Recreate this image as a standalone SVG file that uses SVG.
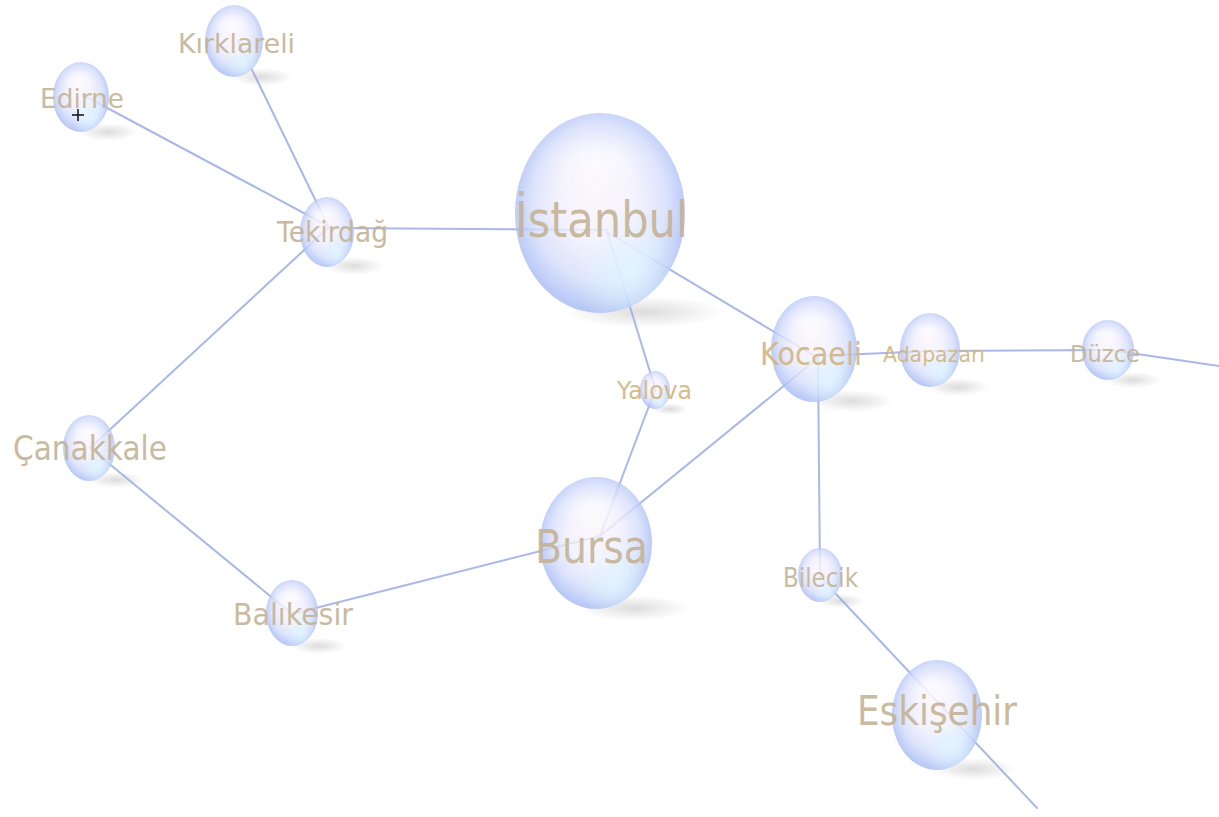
<svg xmlns="http://www.w3.org/2000/svg" width="1219" height="817" viewBox="0 0 1219 817">
<style>
.edge{stroke:#9aace4;stroke-width:2;fill:none;stroke-linecap:round;opacity:0.85}
.ball{fill:url(#ballG);opacity:0.8}
.glow{fill:url(#glowG)}
.hl{fill:url(#hlG)}
.sh{fill:url(#shG)}
.lbl{font-family:"DejaVu Sans","Liberation Sans",sans-serif;fill:#c4b396;opacity:0.9}
.gold{fill:#d2b57f}
</style>
<defs>
<radialGradient id="ballG" cx="0.5" cy="0.47" r="0.52" fx="0.47" fy="0.38">
<stop offset="0" stop-color="#fcf5fa"/>
<stop offset="0.45" stop-color="#f0effd"/>
<stop offset="0.75" stop-color="#d5ddfb"/>
<stop offset="0.92" stop-color="#b5c5f7"/>
<stop offset="1" stop-color="#a6b9f3"/>
</radialGradient>
<radialGradient id="glowG" cx="0.68" cy="0.8" r="0.32">
<stop offset="0" stop-color="#e2f7ff" stop-opacity="0.85"/>
<stop offset="1" stop-color="#e2f7ff" stop-opacity="0"/>
</radialGradient>
<radialGradient id="hlG" cx="0.5" cy="0.5" r="0.5">
<stop offset="0" stop-color="#ffffff" stop-opacity="0.6"/>
<stop offset="1" stop-color="#ffffff" stop-opacity="0"/>
</radialGradient>
<radialGradient id="shG" cx="0.5" cy="0.5" r="0.5">
<stop offset="0" stop-color="#a8a8a8" stop-opacity="0.4"/>
<stop offset="1" stop-color="#a8a8a8" stop-opacity="0"/>
</radialGradient>
</defs>
<rect width="1219" height="817" fill="#ffffff"/>

<g id="shadows">
<ellipse class="sh" cx="108" cy="132" rx="30" ry="9"/>
<ellipse class="sh" cx="262" cy="77" rx="30" ry="9"/>
<ellipse class="sh" cx="354" cy="266" rx="30" ry="9"/>
<ellipse class="sh" cx="645" cy="312" rx="80" ry="16"/>
<ellipse class="sh" cx="852" cy="401" rx="42" ry="11"/>
<ellipse class="sh" cx="958" cy="387" rx="32" ry="9"/>
<ellipse class="sh" cx="1133" cy="380" rx="28" ry="8"/>
<ellipse class="sh" cx="670" cy="409" rx="18" ry="6"/>
<ellipse class="sh" cx="634" cy="608" rx="54" ry="13"/>
<ellipse class="sh" cx="841" cy="601" rx="23" ry="7"/>
<ellipse class="sh" cx="974" cy="769" rx="42" ry="11"/>
<ellipse class="sh" cx="116" cy="480" rx="28" ry="8"/>
<ellipse class="sh" cx="319" cy="646" rx="28" ry="8"/>
</g>

<g id="connectors">
<line class="edge" x1="83" y1="95" x2="328" y2="226"/>
<line class="edge" x1="238" y1="41" x2="328" y2="226"/>
<line class="edge" x1="328" y1="228" x2="607" y2="230"/>
<line class="edge" x1="328" y1="228" x2="90" y2="448"/>
<line class="edge" x1="90" y1="448" x2="292" y2="614"/>
<line class="edge" x1="292" y1="614" x2="600" y2="536"/>
<line class="edge" x1="607" y1="232" x2="655" y2="388"/>
<line class="edge" x1="655" y1="390" x2="600" y2="536"/>
<line class="edge" x1="607" y1="232" x2="818" y2="358"/>
<line class="edge" x1="818" y1="358" x2="600" y2="536"/>
<line class="edge" x1="818" y1="356" x2="930" y2="351"/>
<line class="edge" x1="930" y1="351" x2="1110" y2="350"/>
<line class="edge" x1="1110" y1="350" x2="1219" y2="366"/>
<line class="edge" x1="818" y1="358" x2="820" y2="577"/>
<line class="edge" x1="820" y1="577" x2="1037" y2="808"/>
</g>

<g id="edirne">
<ellipse class="ball" cx="81" cy="97" rx="28" ry="35"/>
<ellipse class="glow" cx="81" cy="97" rx="28" ry="35"/>
<ellipse class="hl" cx="79" cy="80" rx="17" ry="11"/>
<text class="lbl" x="40" y="108" font-size="27" textLength="84" lengthAdjust="spacingAndGlyphs">Edirne</text>
</g>
<g id="kirklareli">
<ellipse class="ball" cx="234" cy="41" rx="29" ry="36"/>
<ellipse class="glow" cx="234" cy="41" rx="29" ry="36"/>
<ellipse class="hl" cx="232" cy="24" rx="18" ry="11"/>
<text class="lbl" x="178" y="53" font-size="27" textLength="117" lengthAdjust="spacingAndGlyphs">Kırklareli</text>
</g>
<g id="tekirdag">
<ellipse class="ball" cx="327" cy="232" rx="27" ry="35"/>
<ellipse class="glow" cx="327" cy="232" rx="27" ry="35"/>
<ellipse class="hl" cx="325" cy="215" rx="16" ry="11"/>
<text class="lbl" x="277" y="242" font-size="29" textLength="111" lengthAdjust="spacingAndGlyphs">Tekirdağ</text>
</g>
<g id="istanbul">
<ellipse class="ball" cx="600" cy="213" rx="85" ry="100"/>
<ellipse class="glow" cx="600" cy="213" rx="85" ry="100"/>
<ellipse class="hl" cx="596" cy="163" rx="52" ry="32"/>
<text class="lbl" x="515" y="237" font-size="50" textLength="173" lengthAdjust="spacingAndGlyphs">İstanbul</text>
</g>
<g id="kocaeli">
<ellipse class="ball" cx="814" cy="349" rx="43" ry="53"/>
<ellipse class="glow" cx="814" cy="349" rx="43" ry="53"/>
<ellipse class="hl" cx="811" cy="323" rx="26" ry="16"/>
<text class="lbl gold" x="760" y="365" font-size="32" textLength="102" lengthAdjust="spacingAndGlyphs">Kocaeli</text>
</g>
<g id="adapazari">
<ellipse class="ball" cx="930" cy="350" rx="30" ry="37"/>
<ellipse class="glow" cx="930" cy="350" rx="30" ry="37"/>
<ellipse class="hl" cx="928" cy="332" rx="18" ry="11"/>
<text class="lbl gold" x="883" y="362" font-size="22" textLength="102" lengthAdjust="spacingAndGlyphs">Adapazarı</text>
</g>
<g id="duzce">
<ellipse class="ball" cx="1108" cy="350" rx="26" ry="30"/>
<ellipse class="glow" cx="1108" cy="350" rx="26" ry="30"/>
<ellipse class="hl" cx="1106" cy="336" rx="16" ry="9"/>
<text class="lbl" x="1070" y="362" font-size="23" textLength="70" lengthAdjust="spacingAndGlyphs">Düzce</text>
</g>
<g id="yalova">
<ellipse class="ball" cx="655" cy="390" rx="15" ry="19"/>
<ellipse class="glow" cx="655" cy="390" rx="15" ry="19"/>
<text class="lbl gold" x="617" y="399" font-size="25" textLength="75" lengthAdjust="spacingAndGlyphs">Yalova</text>
</g>
<g id="bursa">
<ellipse class="ball" cx="596" cy="543" rx="56" ry="66"/>
<ellipse class="glow" cx="596" cy="543" rx="56" ry="66"/>
<ellipse class="hl" cx="593" cy="510" rx="34" ry="21"/>
<text class="lbl" x="535" y="563" font-size="47" textLength="113" lengthAdjust="spacingAndGlyphs">Bursa</text>
</g>
<g id="bilecik">
<ellipse class="ball" cx="820" cy="575" rx="22" ry="27"/>
<ellipse class="glow" cx="820" cy="575" rx="22" ry="27"/>
<text class="lbl" x="783" y="587" font-size="27" textLength="75" lengthAdjust="spacingAndGlyphs">Bilecik</text>
</g>
<g id="eskisehir">
<ellipse class="ball" cx="937" cy="715" rx="45" ry="55"/>
<ellipse class="glow" cx="937" cy="715" rx="45" ry="55"/>
<ellipse class="hl" cx="934" cy="688" rx="27" ry="17"/>
<text class="lbl" x="857" y="725" font-size="40" textLength="160" lengthAdjust="spacingAndGlyphs">Eskişehir</text>
</g>
<g id="canakkale">
<ellipse class="ball" cx="89" cy="448" rx="26" ry="33"/>
<ellipse class="glow" cx="89" cy="448" rx="26" ry="33"/>
<ellipse class="hl" cx="87" cy="432" rx="16" ry="10"/>
<text class="lbl" x="13" y="460" font-size="33" textLength="154" lengthAdjust="spacingAndGlyphs">Çanakkale</text>
</g>
<g id="balikesir">
<ellipse class="ball" cx="292" cy="613" rx="26" ry="33"/>
<ellipse class="glow" cx="292" cy="613" rx="26" ry="33"/>
<ellipse class="hl" cx="290" cy="597" rx="16" ry="10"/>
<text class="lbl" x="233" y="625" font-size="30" textLength="120" lengthAdjust="spacingAndGlyphs">Balıkesir</text>
</g>

<path d="M78 109 V121 M72 115 H84" stroke="#111" stroke-width="1.5" fill="none"/>
</svg>
